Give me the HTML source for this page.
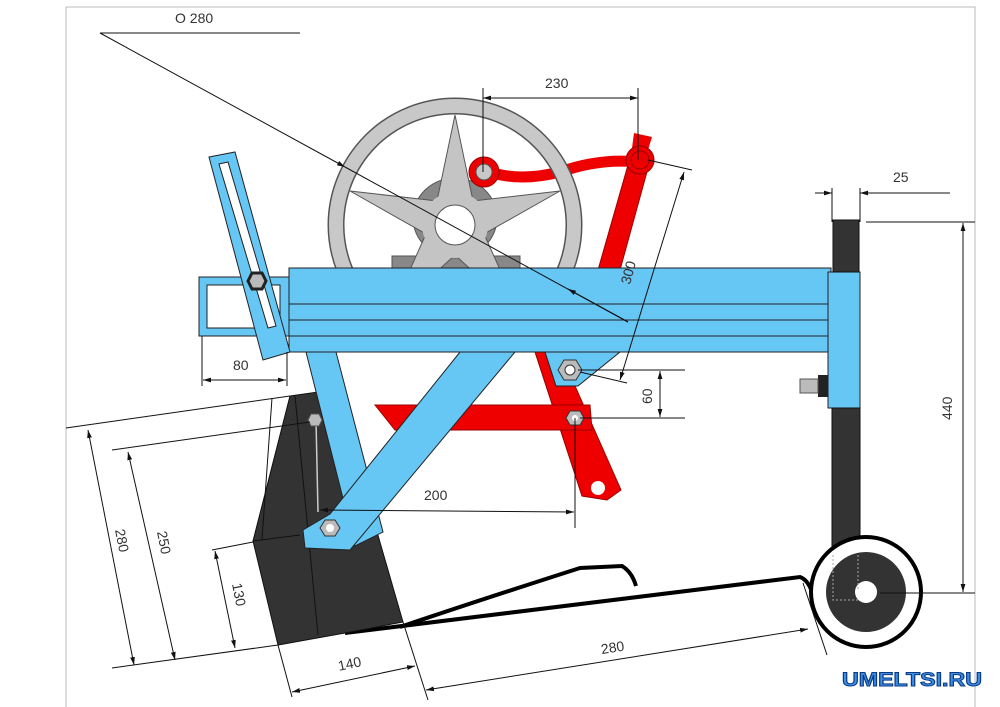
<!DOCTYPE html>
<html><head><meta charset="utf-8"><style>
html,body{margin:0;padding:0;background:#fff;width:1000px;height:707px;overflow:hidden}
svg{display:block}
text{font-family:"Liberation Sans",sans-serif;font-size:14px;fill:#333}
</style></head><body>
<svg width="1000" height="707" viewBox="0 0 1000 707" xmlns="http://www.w3.org/2000/svg">
<defs>
<marker id="a" viewBox="0 0 10 10" refX="10" refY="5" markerWidth="8" markerHeight="8" orient="auto-start-reverse"><path d="M0,2 L10,5 L0,8z" fill="#111"/></marker>
</defs>
<path d="M66,707 V7 H975 V707" fill="none" stroke="#bbb" stroke-width="1"/>

<path d="M345,633 L800,577 Q808,580 812,592" fill="none" stroke="#000" stroke-width="4"/>
<path d="M400,627 Q480,600 580,568 L622,566 Q632,572 636,586" fill="none" stroke="#000" stroke-width="4"/>

<polygon points="290,396 332,390 362,480 403,622 345,633 278,645 253,541" fill="#333" stroke="#111"/>
<path d="M272,398 L262,539 M295,396 L318,635 M253,541 L300,535" stroke="#111" fill="none"/>
<line x1="316" y1="420" x2="318" y2="512" stroke="#ccc" stroke-width="1.5"/>
<polygon points="311,414 319,414 322,420 319,426 311,426 308,420" fill="#bbb" stroke="#555"/>

<path d="M638,162 Q600,158 560,172 Q520,182 490,172" fill="none" stroke="#e00" stroke-width="11"/>
<polygon points="628,165 648,168 620,270 598,270" fill="#e00" stroke="#900"/>
<polygon points="535,352 560,352 621,490 607,500 582,496" fill="#e00" stroke="#900"/>
<polygon points="375,405 590,405 592,430 395,430" fill="#e00" stroke="#900"/>
<circle cx="598" cy="488" r="7" fill="#fff"/>
<polygon points="634,133 652,137 648,150 632,148" fill="#e00"/>
<circle cx="640" cy="160" r="14" fill="#e00" stroke="#900"/>
<circle cx="640" cy="160" r="9" fill="#e00" stroke="#900"/>

<rect x="392" y="256" width="128" height="14" fill="#888" stroke="#555"/>
<ellipse cx="455" cy="218" rx="42" ry="40" fill="#888" stroke="#555"/>
<circle cx="455" cy="225" r="119" fill="none" stroke="#555" stroke-width="17"/>
<circle cx="455" cy="225" r="119" fill="none" stroke="#c8c8c8" stroke-width="14"/>
<polygon points="455,115 473,201 560,191 484,234 520,314 455,255 390,314 426,234 350,191 437,201" fill="#c4c4c4" stroke="#555"/>
<circle cx="455" cy="225" r="33" fill="#c4c4c4"/>
<circle cx="455" cy="225" r="20" fill="#fff" stroke="#555"/>

<circle cx="484" cy="172" r="15" fill="#e00" stroke="#900"/>
<circle cx="484" cy="172" r="8" fill="#c8c8c8" stroke="#555"/>

<g fill="#66c6f4" stroke="#222" stroke-width="1">
<rect x="199" y="277" width="92" height="59"/>
<rect x="207" y="285" width="73" height="43" fill="#fff"/>
<polygon points="306,352 336,352 383,532 355,546"/>
<polygon points="460,352 515,352 350,550 305,548 303,530 330,514"/>
<polygon points="545,352 620,352 578,386 556,386"/>
<rect x="289" y="268" width="542" height="84"/>
<line x1="289" y1="304" x2="831" y2="304"/>
<line x1="289" y1="320" x2="831" y2="320"/>
<line x1="289" y1="336" x2="831" y2="336"/>
<polygon points="209,157 235,152 290,352 263,360"/>
<polygon points="219,164 228,162 276,326 268,328" fill="#fff"/>
<rect x="828" y="272" width="32" height="136"/>
</g>
<rect x="833" y="220" width="26" height="52" fill="#333" stroke="#111"/>
<rect x="832" y="408" width="28" height="148" fill="#333" stroke="#111"/>
<rect x="818" y="375" width="10" height="22" fill="#222"/>
<rect x="800" y="379" width="18" height="14" fill="#bbb" stroke="#555"/>

<polygon points="248,281 252,273 262,273 266,281 262,289 252,289" fill="#bbb" stroke="#222" stroke-width="3"/>
<polygon points="558,370 564,360 576,360 582,370 576,380 564,380" fill="#bbb" stroke="#333"/>
<circle cx="570" cy="370" r="5" fill="#fff" stroke="#333"/>
<polygon points="566,418 570,411 580,411 584,418 580,425 570,425" fill="#bbb" stroke="#333"/>
<circle cx="575" cy="418" r="3" fill="#fff"/>
<polygon points="320,528 325,520 335,520 340,528 335,536 325,536" fill="#bbb" stroke="#333"/>
<circle cx="330" cy="528" r="4" fill="#fff"/>

<circle cx="866" cy="592" r="55" fill="#fff" stroke="#000" stroke-width="4"/>
<circle cx="866" cy="592" r="40" fill="#333"/>
<circle cx="866" cy="592" r="11" fill="#fff"/>
<path d="M833,555 V600 H858 M858,555 V590" fill="none" stroke="#aaa" stroke-dasharray="2,2"/>

<g stroke="#111" stroke-width="1" fill="none">
<line x1="100" y1="33" x2="300" y2="33"/>
<line x1="100" y1="33" x2="345" y2="167" marker-end="url(#a)"/>
<line x1="345" y1="167" x2="628" y2="322"/>
<line x1="628" y1="322" x2="568" y2="289" marker-end="url(#a)"/>
<line x1="483" y1="88" x2="483" y2="172"/>
<line x1="638" y1="88" x2="638" y2="160"/>
<line x1="483" y1="98" x2="638" y2="98" marker-start="url(#a)" marker-end="url(#a)"/>
<line x1="648" y1="160" x2="692" y2="170"/>
<line x1="580" y1="372" x2="627" y2="383"/>
<line x1="684" y1="172" x2="620" y2="380" marker-start="url(#a)" marker-end="url(#a)"/>
<line x1="832" y1="188" x2="832" y2="222"/>
<line x1="860" y1="188" x2="860" y2="222"/>
<line x1="815" y1="193" x2="832" y2="193" marker-end="url(#a)"/>
<line x1="878" y1="193" x2="860" y2="193" marker-end="url(#a)"/>
<line x1="878" y1="193" x2="950" y2="193"/>
<line x1="866" y1="222" x2="975" y2="222"/>
<line x1="880" y1="593" x2="975" y2="593"/>
<line x1="963" y1="223" x2="963" y2="592" marker-start="url(#a)" marker-end="url(#a)"/>
<line x1="578" y1="370" x2="685" y2="370"/>
<line x1="580" y1="418" x2="685" y2="418"/>
<line x1="660" y1="371" x2="660" y2="417" marker-start="url(#a)" marker-end="url(#a)"/>
<line x1="575" y1="418" x2="575" y2="528"/>
<line x1="320" y1="510" x2="574" y2="512" marker-start="url(#a)" marker-end="url(#a)"/>
<line x1="202" y1="336" x2="202" y2="386"/>
<line x1="287" y1="352" x2="287" y2="386"/>
<line x1="203" y1="380" x2="286" y2="380" marker-start="url(#a)" marker-end="url(#a)"/>
<line x1="66" y1="428" x2="290" y2="396"/>
<line x1="112" y1="668" x2="278" y2="645"/>
<line x1="112" y1="450" x2="310" y2="422"/>
<line x1="88" y1="430" x2="134" y2="665" marker-start="url(#a)" marker-end="url(#a)"/>
<line x1="128" y1="452" x2="175" y2="660" marker-start="url(#a)" marker-end="url(#a)"/>
<line x1="212" y1="550" x2="253" y2="542"/>
<line x1="215" y1="551" x2="235" y2="648" marker-start="url(#a)" marker-end="url(#a)"/>
<line x1="278" y1="645" x2="292" y2="697"/>
<line x1="403" y1="622" x2="428" y2="700"/>
<line x1="292" y1="692" x2="415" y2="666" marker-start="url(#a)" marker-end="url(#a)"/>
<line x1="803" y1="583" x2="827" y2="655"/>
<line x1="426" y1="690" x2="808" y2="629" marker-start="url(#a)" marker-end="url(#a)"/>
</g>

<text x="175" y="23">O  280</text>
<text x="545" y="88">230</text>
<text x="893" y="182">25</text>
<text x="424" y="500">200</text>
<text x="233" y="370">80</text>
<text x="338" y="668" transform="rotate(-12 352 664)">140</text>
<text x="601" y="652" transform="rotate(-9 615 648)">280</text>
<text transform="translate(630,285) rotate(-75)">300</text>
<text transform="translate(652,404) rotate(-90)">60</text>
<text transform="translate(952,420) rotate(-90)">440</text>
<text transform="translate(115,530) rotate(79)">280</text>
<text transform="translate(157,532) rotate(79)">250</text>
<text transform="translate(232,584) rotate(79)">130</text>

<text x="842" y="686" textLength="140" lengthAdjust="spacingAndGlyphs" style="font-size:19px;font-weight:bold;fill:#3a8ee8;stroke:#0b3a80;stroke-width:1">UMELTSI.RU</text>
</svg>
</body></html>
